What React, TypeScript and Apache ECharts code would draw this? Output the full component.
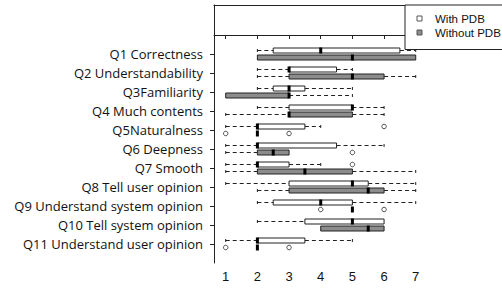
import React, { useEffect, useRef } from "react";
import * as echarts from "echarts";

const categories = [
  "Q1 Correctness",
  "Q2 Understandability",
  "Q3Familiarity",
  "Q4 Much contents",
  "Q5Naturalness",
  "Q6 Deepness",
  "Q7 Smooth",
  "Q8 Tell user opinion",
  "Q9 Understand system opinion",
  "Q10 Tell system opinion",
  "Q11 Understand user opinion",
];

// [min, q1, median, q3, max] per question
const withPDB = [
  [2, 2.5, 4, 6.5, 7],
  [2, 3, 3, 4.5, 5],
  [2, 2.5, 3, 3.5, 5],
  [2, 3, 5, 5, 6],
  [1, 2, 2, 3.5, 4],
  [1, 2, 2, 4.5, 6],
  [1, 2, 2, 3, 4],
  [1, 3, 5, 5.5, 7],
  [2, 2.5, 4, 5, 7],
  [2, 3.5, 5, 6, 6],
  [1, 2, 2, 3.5, 5],
];
const withoutPDB = [
  [2, 2, 5, 7, 7],
  [2, 3, 5, 6, 7],
  [1, 1, 3, 3, 5],
  [1, 3, 3, 5, 6],
  [2, 2, 2, 2, 2],
  [1, 2, 2.5, 3, 3],
  [1, 2, 3.5, 5, 7],
  [2, 3, 5.5, 6, 7],
  [5, 5, 5, 5, 5],
  [4, 4, 5.5, 6, 6],
  [2, 2, 2, 2, 2],
];
// [question number, value]
const withOutliers = [
  [5, 6],
  [7, 5],
];
const withoutOutliers = [
  [5, 1],
  [5, 3],
  [6, 5],
  [9, 4],
  [9, 6],
  [11, 1],
  [11, 3],
];
const xTicks = [1, 2, 3, 4, 5, 6, 7];
const yTicks = [1, 2, 3, 4, 5, 6, 7, 8, 9, 10, 11];

const OFF = 3.5;
const BOX_H = 5;
const LINE = "#222";
const GRAY = "#8c8c8c";

function makeRender(offset: number, fill: string) {
  return (params: any, api: any) => {
    const q = api.value(0);
    const lo = api.coord([api.value(1), q]);
    const q1 = api.coord([api.value(2), q]);
    const md = api.coord([api.value(3), q]);
    const q3 = api.coord([api.value(4), q]);
    const hi = api.coord([api.value(5), q]);
    const cy = lo[1] + offset;
    const children: any[] = [];
    const dash = { stroke: LINE, lineWidth: 1, lineDash: [4, 3] };
    if (lo[0] < q1[0] - 0.5) {
      children.push({ type: "line", shape: { x1: lo[0], y1: cy, x2: q1[0], y2: cy }, style: dash });
      children.push({ type: "line", shape: { x1: lo[0], y1: cy - 1.5, x2: lo[0], y2: cy + 1.5 }, style: { stroke: LINE, lineWidth: 1 } });
    }
    if (hi[0] > q3[0] + 0.5) {
      children.push({ type: "line", shape: { x1: q3[0], y1: cy, x2: hi[0], y2: cy }, style: dash });
      children.push({ type: "line", shape: { x1: hi[0], y1: cy - 1.5, x2: hi[0], y2: cy + 1.5 }, style: { stroke: LINE, lineWidth: 1 } });
    }
    children.push({
      type: "rect",
      shape: { x: q1[0], y: cy - BOX_H / 2, width: q3[0] - q1[0], height: BOX_H },
      style: { fill, stroke: LINE, lineWidth: 1 },
    });
    children.push({
      type: "line",
      shape: { x1: md[0], y1: cy - BOX_H / 2 - 0.5, x2: md[0], y2: cy + BOX_H / 2 + 0.5 },
      style: { stroke: "#000", lineWidth: 3 },
    });
    return { type: "group", children };
  };
}

export default function App() {
  const ref = useRef<HTMLDivElement>(null);
  useEffect(() => {
    const chart = echarts.init(ref.current!, undefined, { renderer: "svg" });
    const withData = withPDB.map((d, i) => [i + 1, ...d]);
    const withoutData = withoutPDB.map((d, i) => [i + 1, ...d]);
    const xMin = 0.63;
    const xMax = 9.724;
    chart.setOption({
      animation: false,
      grid: {
        show: false,
        left: 214,
        top: 5,
        right: 0,
        height: 258,
      },
      legend: {
        left: 405,
        top: 5,
        orient: "vertical",
        padding: [7.5, 30, 11, 11.5],
        itemGap: 2,
        itemWidth: 5,
        itemHeight: 5,
        borderColor: LINE,
        borderWidth: 1,
        backgroundColor: "#fff",
        textStyle: {
          fontFamily: "Liberation Sans",
          fontSize: 11.5,
          color: "#111",
          padding: [0, 0, 0, 8],
        },
        data: [
          { name: "With PDB", icon: "rect", itemStyle: { color: "#fff", borderColor: "#555", borderWidth: 1 } },
          { name: "Without PDB", icon: "rect", itemStyle: { color: GRAY, borderColor: "#555", borderWidth: 1 } },
        ],
      },
      xAxis: [
        {
          type: "value",
          min: xMin,
          max: xMax,
          splitLine: { show: false },
          axisLine: { show: true, lineStyle: { color: LINE } },
          axisTick: { show: true, length: 4, customValues: xTicks, lineStyle: { color: LINE } },
          axisLabel: {
            customValues: xTicks,
            fontFamily: "Liberation Sans",
            fontSize: 13,
            color: "#111",
            margin: 7,
          },
        },
        {
          type: "value",
          position: "top",
          min: xMin,
          max: xMax,
          splitLine: { show: false },
          axisLine: { show: true, lineStyle: { color: LINE } },
          axisTick: { show: false },
          axisLabel: { show: false },
        },
      ],
      yAxis: {
        type: "value",
        inverse: true,
        min: -1.579,
        max: 12,
        splitLine: { show: false },
        axisLine: { show: true, lineStyle: { color: LINE } },
        axisTick: { show: true, length: 4, customValues: yTicks, lineStyle: { color: LINE } },
        axisLabel: {
          customValues: yTicks,
          formatter: (v: number) => categories[Math.round(v) - 1] ?? "",
          fontFamily: "Open Sans",
          fontSize: 13,
          color: "#111",
          margin: 11,
          padding: [0, 0, 7, 0],
        },
      },
      series: [
        {
          name: "With PDB",
          type: "custom",
          renderItem: makeRender(-OFF, "#fff"),
          encode: { x: [1, 2, 3, 4, 5], y: 0 },
          itemStyle: { color: "#fff", borderColor: "#444" },
          data: withData,
          z: 3,
        },
        {
          name: "Without PDB",
          type: "custom",
          renderItem: makeRender(OFF, GRAY),
          encode: { x: [1, 2, 3, 4, 5], y: 0 },
          itemStyle: { color: GRAY, borderColor: "#444" },
          data: withoutData,
          z: 3,
        },
        {
          name: "withOut",
          type: "scatter",
          data: withOutliers.map(([q, v]) => [v, q]),
          symbol: "circle",
          symbolSize: 4.5,
          symbolOffset: [0, -OFF],
          itemStyle: { color: "#fff", borderColor: LINE, borderWidth: 1 },
          z: 4,
        },
        {
          name: "withoutOut",
          type: "scatter",
          data: withoutOutliers.map(([q, v]) => [v, q]),
          symbol: "circle",
          symbolSize: 4.5,
          symbolOffset: [0, OFF],
          itemStyle: { color: "#fff", borderColor: LINE, borderWidth: 1 },
          z: 4,
        },
      ],
    });
    return () => chart.dispose();
  }, []);
  return (
    <div
      ref={ref}
      style={{ position: "fixed", left: 0, top: 0, width: 502, height: 289, background: "#fff" }}
    />
  );
}
